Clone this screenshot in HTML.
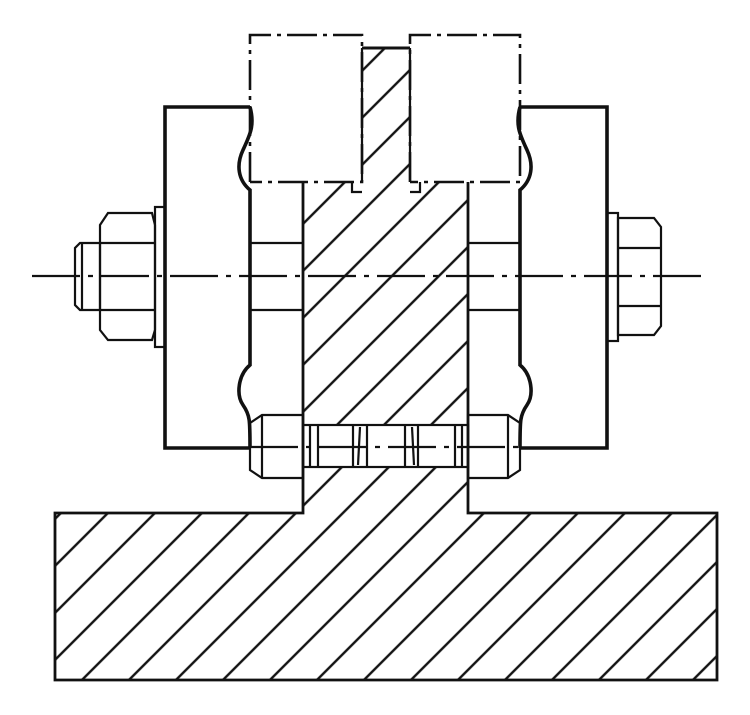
<!DOCTYPE html>
<html><head><style>html,body{margin:0;padding:0;background:#fff;width:750px;height:715px;overflow:hidden}#w{position:absolute;left:0;top:0;width:750px;height:715px;overflow:hidden}svg{display:block}</style></head><body>
<div id="w">
<svg width="750" height="715" viewBox="0 0 750 715" xmlns="http://www.w3.org/2000/svg">
<defs>
<pattern id="hp" patternUnits="userSpaceOnUse" width="33.234" height="20" patternTransform="rotate(45)">
<line x1="7" y1="0" x2="7" y2="20" stroke="#111" stroke-width="2.4"/>
</pattern>
</defs>
<rect width="750" height="715" fill="#fff"/>
<path d="M55 513 H303 V182 H362 V48 H410 V182 H468 V513 H717 V680 H55 Z" fill="url(#hp)"/>
<rect x="303" y="425" width="165" height="42" fill="#fff"/>
<g fill="none" stroke="#111">
<path d="M303 182 V513 H55 V680 H717 V513 H468 V182" stroke-width="2.8"/>
<path d="M362 48 H410" stroke-width="3"/>
<path d="M362 48 V182 M410 48 V182" stroke-width="2.2"/>
<g stroke-width="2.6" stroke-dasharray="30 6 4 6">
<path d="M250 182 V35 H362 V182 H250"/>
<path d="M410 182 V35 H520 V182 H410"/>
</g>
<path d="M352 182 V192 H362 M410 192 H420 V182" stroke-width="2.2"/>
<path d="M250 107 H165 V448 H250" stroke-width="3.6"/>
<path d="M520 107 H607 V448 H520" stroke-width="3.6"/>
<path d="M250 107 C255 125,250 135,243 150 C236 165,238 180,250 190 V365 C238 375,236 395,243 405 C250 415,250 420,250 448" stroke-width="3.6"/>
<path d="M520 107 C515 125,520 135,527 150 C534 165,532 180,520 190 V365 C532 375,534 395,527 405 C520 415,520 420,520 448" stroke-width="3.6"/>
<path d="M250 243 H303 M250 310 H303 M468 243 H520 M468 310 H520" stroke-width="2.2"/>
<g stroke-width="2.2">
<path d="M262 415 H303 V478 H262 L250 470 V423 Z M262 415 V478"/>
<path d="M508 415 H468 V478 H508 L520 470 V423 Z M508 415 V478"/>
<rect x="303" y="425" width="165" height="42"/>
<path d="M310 425 V467 M318 425 V467 M353 425 V467 M360 427 L358 465 M367 425 V467 M405 425 V467 M412 427 L414 465 M418 425 V467 M455 425 V467 M462 425 V467"/>
</g>
<g stroke-width="2.2">
<rect x="155" y="207" width="10" height="140"/>
<path d="M108 213 H152 L155 225 V330 L152 340 H108 L100 330 V225 Z"/>
<path d="M100 243 H155 M100 310 H155"/>
<path d="M80 243 H100 V310 H80 L75 305 V248 Z M82 243 V310"/>
</g>
<g stroke-width="2.2">
<rect x="607" y="213" width="11" height="128"/>
<path d="M618 218 H654 L661 227 V326 L654 335 H618 Z"/>
<path d="M618 248 H661 M618 306 H661"/>
</g>
<g stroke-width="2.2" stroke-dasharray="48 8 5 8">
<path d="M32 276 H708"/>
<path d="M250 447 H520"/>
</g>
</g>
</svg>
</div>
</body></html>
